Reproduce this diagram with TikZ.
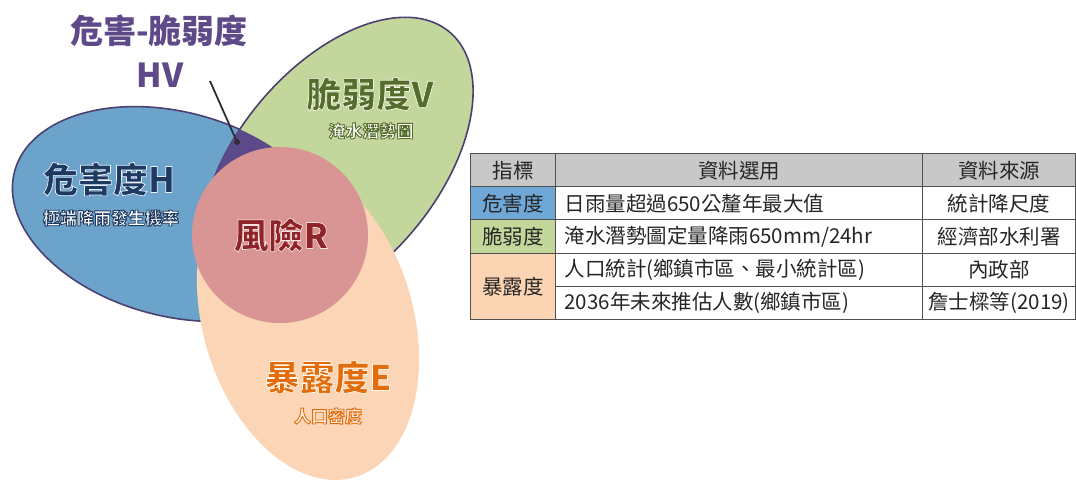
\documentclass[tikz,border=0pt]{standalone}
\usepackage{fontspec}
\setmainfont{Noto Sans CJK TC}
\definecolor{bluef}{RGB}{108,163,203}
\definecolor{greenf}{RGB}{195,214,155}
\definecolor{peachf}{RGB}{251,213,181}
\definecolor{redf}{RGB}{217,148,148}
\definecolor{purplef}{RGB}{92,73,138}
\definecolor{outl}{RGB}{75,65,112}
\definecolor{hvc}{RGB}{94,74,136}
\definecolor{hnavy}{RGB}{31,58,96}
\definecolor{vgreen}{RGB}{84,108,44}
\definecolor{rred}{RGB}{142,36,40}
\definecolor{eorange}{RGB}{227,108,10}
\definecolor{epale}{RGB}{253,236,222}
\definecolor{ptr}{RGB}{45,45,55}
\definecolor{tline}{RGB}{80,80,80}
\definecolor{thead}{RGB}{200,200,200}
\definecolor{tblue}{RGB}{111,168,214}
\definecolor{tgreen}{RGB}{196,215,155}
\definecolor{tpeach}{RGB}{251,212,180}
\definecolor{ttext}{RGB}{38,38,38}
% text filled in the current colour and outlined with a stroke (#1 = rgb numbers, #2 = width)
\newcommand\strk[3]{\special{pdf:literal direct 2 Tr #2 w #1 RG}#3\special{pdf:literal direct 0 Tr}}
\tikzset{
  setborder/.style={draw=outl, line width=1.6pt},
  biglbl/.style={font=\bfseries\fontsize{35}{40}\selectfont, inner sep=0pt},
  smalllbl/.style={font=\bfseries\fontsize{17}{20}\selectfont, inner sep=0pt},
  hvlbl/.style={font=\bfseries\fontsize{33}{38}\selectfont, text=hvc, inner sep=0pt},
  cell/.style={draw=tline, line width=1pt, anchor=north west, inner sep=0pt,
    font=\fontsize{20.5}{23}\selectfont, text=ttext},
  lcell/.style={cell, text width=349pt, inner xsep=9pt, align=left},
}
\begin{document}
\begin{tikzpicture}[x=1pt,y=-1pt]
\useasboundingbox (0,0) rectangle (1076,481);
\coordinate (Hc) at (174,214);
\coordinate (Vc) at (337,166);
\coordinate (Ec) at (308,320);
\coordinate (Rc) at (280,235);
% hazard ellipse
\path[fill=bluef, setborder, rotate around={-15:(Hc)}] (Hc) ellipse [x radius=165pt, y radius=102pt];
% vulnerability ellipse
\path[fill=greenf, setborder, rotate around={50:(Vc)}] (Vc) ellipse [x radius=175pt, y radius=100pt];
% overlap HV
\begin{scope}
  \clip[rotate around={-15:(Hc)}] (Hc) ellipse [x radius=165pt, y radius=102pt];
  \fill[purplef, rotate around={50:(Vc)}] (Vc) ellipse [x radius=175pt, y radius=100pt];
\end{scope}
% exposure ellipse
\fill[peachf, rotate around={-73.3:(Ec)}] (Ec) ellipse [x radius=164pt, y radius=105pt];
% risk circle
\fill[redf] (Rc) circle [radius=88pt];

% table
\node[cell, fill=thead, minimum width=85pt, minimum height=33.5pt] (t00) at (470,153) {指標};
\node[cell, fill=thead, minimum width=367pt, minimum height=33.5pt] (t01) at (555,153) {資料選用};
\node[cell, fill=thead, minimum width=153pt, minimum height=33.5pt] (t02) at (922,153) {資料來源};

\node[cell, fill=tblue, minimum width=85pt, minimum height=33pt] (t10) at (470,186.5) {危害度};
\node[lcell, minimum height=33pt] (t11) at (555,186.5) {日雨量超過650公釐年最大值};
\node[cell, minimum width=153pt, minimum height=33pt] (t12) at (922,186.5) {統計降尺度};

\node[cell, fill=tgreen, minimum width=85pt, minimum height=33pt] (t20) at (470,219.5) {脆弱度};
\node[lcell, minimum height=33pt] (t21) at (555,219.5) {淹水潛勢圖定量降雨650mm/24hr};
\node[cell, minimum width=153pt, minimum height=33pt] (t22) at (922,219.5) {經濟部水利署};

\node[cell, fill=tpeach, minimum width=85pt, minimum height=66.5pt] (t30) at (470,252.5) {暴露度};
\node[lcell, minimum height=33.5pt] (t31) at (555,252.5) {人口統計(鄉鎮市區、最小統計區)};
\node[cell, minimum width=153pt, minimum height=33.5pt] (t32) at (922,252.5) {內政部};

\node[lcell, minimum height=33pt] (t41) at (555,286) {2036年未來推估人數(鄉鎮市區)};
\node[cell, minimum width=153pt, minimum height=33pt] (t42) at (922,286) {詹士樑等(2019)};

% pointer
\coordinate (ptrs) at (210,81);
\node[circle, fill=ptr, inner sep=0pt, minimum size=6pt] (hvdot) at (237,142) {};
\draw[ptr, line width=1.8pt] (ptrs) -- (hvdot.center);

% labels
\node[hvlbl] (hvt) at (159,31) {危害-脆弱度};
\node[hvlbl] (hvl) at (160,75) {HV};
\node[biglbl] (Hl) at (109,179) {\textcolor{hnavy}{\strk{0.92 0.95 1}{0.7}{危害度H}}};
\node[smalllbl] (Hs) at (111,218) {\textcolor{white}{\strk{0.12 0.227 0.376}{0.85}{極端降雨發生機率}}};
\node[biglbl] (Vl) at (370,94) {\textcolor{vgreen}{\strk{0.95 0.97 0.9}{0.7}{脆弱度V}}};
\node[smalllbl] (Vs) at (371,131) {\textcolor{white}{\strk{0.33 0.424 0.173}{0.85}{淹水潛勢圖}}};
\node[biglbl] (Rl) at (281,235) {\textcolor{rred}{\strk{0.97 0.88 0.88}{0.7}{風險R}}};
\node[biglbl] (El) at (328,377) {\textcolor{eorange}{\strk{1 0.97 0.93}{0.7}{暴露度E}}};
\node[smalllbl] (Es) at (328,416) {\textcolor{epale}{\strk{0.89 0.424 0.039}{0.85}{人口密度}}};
\end{tikzpicture}
\end{document}
